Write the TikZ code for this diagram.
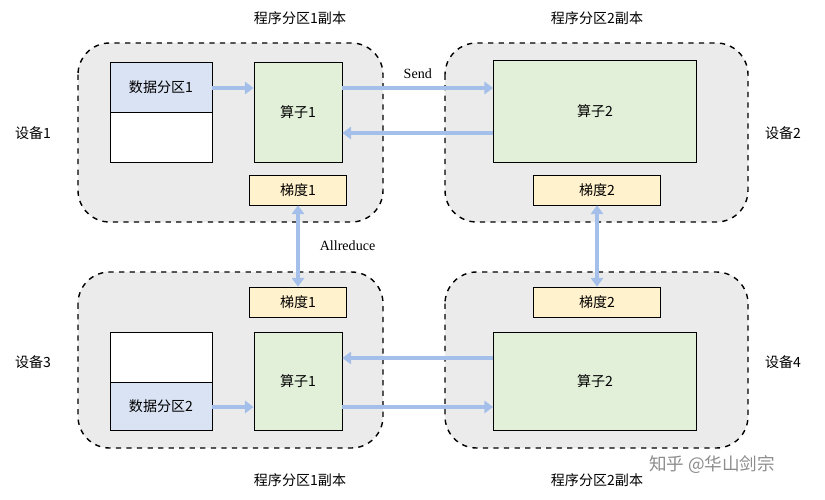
\documentclass[tikz,border=0pt]{standalone}
\usepackage{fontspec}
\setmainfont{Liberation Serif}
\newfontfamily\cjk{Noto Sans CJK SC}
\usetikzlibrary{arrows.meta}
\definecolor{boxgray}{HTML}{EBEBEB}
\definecolor{datablue}{HTML}{DAE3F3}
\definecolor{opgreen}{HTML}{E2F0D9}
\definecolor{gradyellow}{HTML}{FFF2CC}
\definecolor{arrowblue}{HTML}{A4BFEA}
\tikzset{
  dev/.style={draw,dashed,thick,rounded corners=18pt,fill=boxgray},
  blk/.style={draw,thin,inner sep=0pt,font=\cjk\fontsize{8}{9}\selectfont},
  flow/.style={draw=arrowblue,line width=2.2pt,-{Triangle[length=5pt,width=7pt]}},
  lbl/.style={font=\cjk\fontsize{8}{9}\selectfont}
}
\begin{document}
\begin{tikzpicture}[x=0.02cm,y=-0.02cm]
\useasboundingbox (0,0) rectangle (825,500);
% device frames
\draw[dev] (78,43) rectangle (383,222);
\draw[dev] (445,43) rectangle (748,222);
\draw[dev] (78,272) rectangle (383,448);
\draw[dev] (445,272) rectangle (748,448);
% titles
\node[lbl] (t1) at (300,18) {程序分区1副本};
\node[lbl] (t2) at (597,18) {程序分区2副本};
\node[lbl] (t3) at (300,480) {程序分区1副本};
\node[lbl] (t4) at (597,480) {程序分区2副本};
\node[lbl] (dev1) at (33,133) {设备1};
\node[lbl] (dev2) at (783,133) {设备2};
\node[lbl] (dev3) at (33,362) {设备3};
\node[lbl] (dev4) at (783,362) {设备4};
% device 1
\node[blk,fill=datablue,minimum width=2.04cm,minimum height=1cm] (data1) at (161,87) {数据分区1};
\node[blk,fill=white,minimum width=2.04cm,minimum height=1cm] (empty1) at (161,137) {};
\node[blk,fill=opgreen,minimum width=1.76cm,minimum height=2cm] (op1) at (298,112) {算子1};
\node[blk,fill=gradyellow,minimum width=1.94cm,minimum height=0.6cm] (grad1) at (298,190) {梯度1};
% device 2
\node[blk,fill=opgreen,minimum width=4.06cm,minimum height=2.04cm] (op2) at (595,111) {算子2};
\node[blk,fill=gradyellow,minimum width=2.54cm,minimum height=0.6cm] (grad2) at (597,190) {梯度2};
% device 3
\node[blk,fill=gradyellow,minimum width=1.94cm,minimum height=0.6cm] (grad3) at (298,302) {梯度1};
\node[blk,fill=opgreen,minimum width=1.76cm,minimum height=1.96cm] (op3) at (298,381) {算子1};
\node[blk,fill=white,minimum width=2.04cm,minimum height=1cm] (empty3) at (161,357) {};
\node[blk,fill=datablue,minimum width=2.04cm,minimum height=0.96cm] (data3) at (161,406) {数据分区2};
% device 4
\node[blk,fill=gradyellow,minimum width=2.54cm,minimum height=0.6cm] (grad4) at (597,302) {梯度2};
\node[blk,fill=opgreen,minimum width=4.06cm,minimum height=1.96cm] (op4) at (595,381) {算子2};
% connectors
\coordinate (s1) at (0,88);
\coordinate (s2) at (0,133);
\coordinate (s3) at (0,358);
\coordinate (s4) at (0,407);
\draw[flow] (data1.east |- s1) -- (op1.west |- s1);
\draw[flow] (op1.east |- s1) -- node[above=1pt,font=\fontsize{8}{9}\selectfont] {Send} (op2.west |- s1);
\draw[flow] (op2.west |- s2) -- (op1.east |- s2);
\draw[flow,{Triangle[length=5pt,width=7pt]}-{Triangle[length=5pt,width=7pt]}] (grad1) -- node[right=8pt,font=\fontsize{8}{9}\selectfont] {Allreduce} (grad3);
\draw[flow,{Triangle[length=5pt,width=7pt]}-{Triangle[length=5pt,width=7pt]}] (grad2) -- (grad4);
\draw[flow] (op4.west |- s3) -- (op3.east |- s3);
\draw[flow] (data3.east |- s4) -- (op3.west |- s4);
\draw[flow] (op3.east |- s4) -- (op4.west |- s4);
% watermark
\node[lbl,text=black!45,font=\cjk\fontsize{10}{11}\selectfont] (mark) at (712,465) {知乎 @华山剑宗};
\end{tikzpicture}
\end{document}
